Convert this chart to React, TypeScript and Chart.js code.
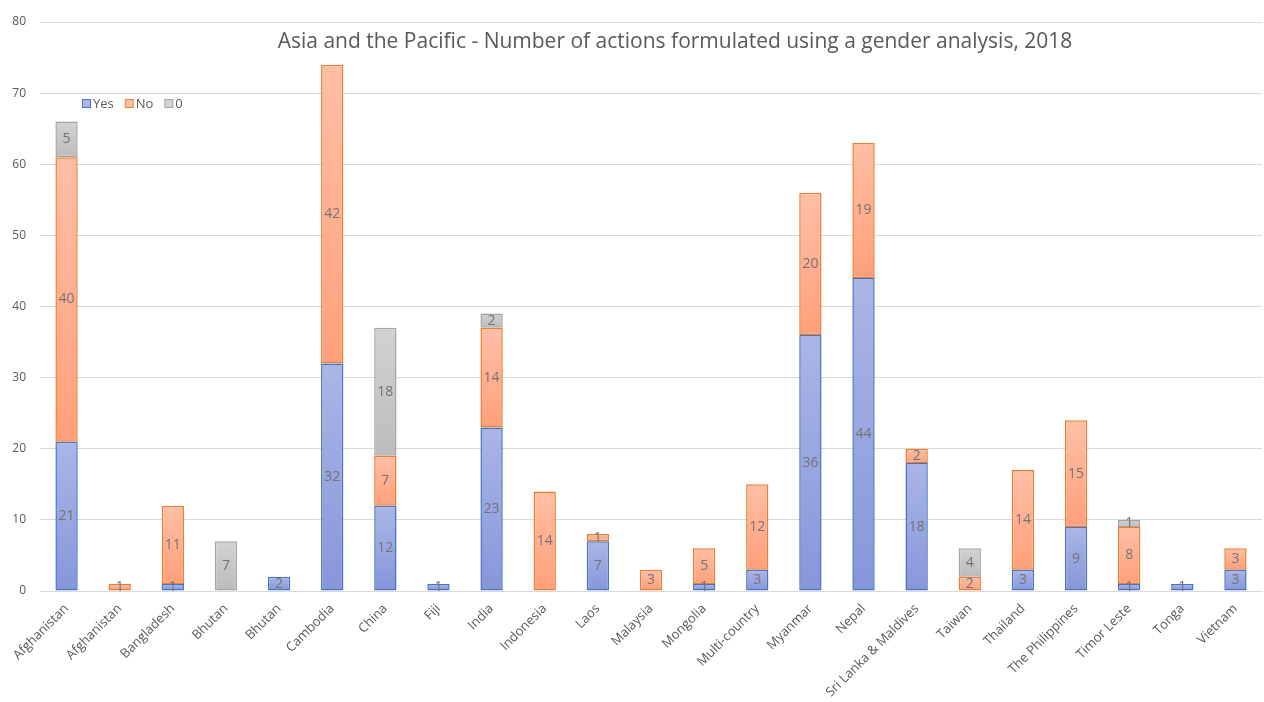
import React, { useEffect, useRef } from "react";
import { Chart, registerables } from "chart.js";

Chart.register(...registerables);

const categories = [
  "Afghanistan", "Afghanistan", "Bangladesh", "Bhutan", "Bhutan", "Cambodia", "China", "Fiji",
  "India", "Indonesia", "Laos", "Malaysia", "Mongolia", "Multi-country", "Myanmar", "Nepal",
  "Sri Lanka & Maldives", "Taiwan", "Thailand", "The Philippines", "Timor Leste", "Tonga", "Vietnam",
];
const yesValues = [21, 0, 1, 0, 2, 32, 12, 1, 23, 0, 7, 0, 1, 3, 36, 44, 18, 0, 3, 9, 1, 1, 3];
const noValues = [40, 1, 11, 0, 0, 42, 7, 0, 14, 14, 1, 3, 5, 12, 20, 19, 2, 2, 14, 15, 8, 0, 3];
const zeroValues = [5, 0, 0, 7, 0, 0, 18, 0, 2, 0, 0, 0, 0, 0, 0, 0, 0, 4, 0, 0, 1, 0, 0];
const seriesNames = ["Yes", "No", "0"];
const yTicks = [0, 10, 20, 30, 40, 50, 60, 70, 80];
const titleText = "Asia and the Pacific - Number of actions formulated using a gender analysis, 2018";

const FONT = "'Open Sans', 'Noto Sans', sans-serif";
const TEXT = "#595959";

const palette = [
  { border: "#4472c4", top: "#abb6e6", bottom: "#8696da" },
  { border: "#ed7d31", top: "#ffbfa6", bottom: "#ffa07a" },
  { border: "#a5a5a5", top: "#d2d2d2", bottom: "#bcbcbc" },
];

const gradientPlugin = {
  id: "barGradient",
  beforeDatasetsDraw(chart: any) {
    const ctx = chart.ctx;
    chart.data.datasets.forEach((ds: any, i: number) => {
      const meta = chart.getDatasetMeta(i);
      meta.data.forEach((el: any) => {
        const top = Math.min(el.y, el.base);
        const bot = Math.max(el.y, el.base);
        if (!isFinite(top) || !isFinite(bot) || bot - top < 0.5) return;
        const g = ctx.createLinearGradient(0, top, 0, bot);
        g.addColorStop(0, palette[i].top);
        g.addColorStop(1, palette[i].bottom);
        el.options = { ...el.options, backgroundColor: g };
      });
    });
  },
};

const labelPlugin = {
  id: "valueLabels",
  afterDatasetsDraw(chart: any) {
    const ctx = chart.ctx;
    ctx.save();
    ctx.font = `14px ${FONT}`;
    ctx.fillStyle = "#737373";
    ctx.textAlign = "center";
    ctx.textBaseline = "middle";
    chart.data.datasets.forEach((ds: any, i: number) => {
      const meta = chart.getDatasetMeta(i);
      meta.data.forEach((el: any, j: number) => {
        const v = ds.data[j];
        if (!v) return;
        ctx.fillText(String(v), el.x, (el.y + el.base) / 2);
      });
    });
    ctx.restore();
  },
};

const titleLegendPlugin = {
  id: "titleLegend",
  afterDraw(chart: any) {
    const ctx = chart.ctx;
    ctx.save();
    ctx.font = `21px ${FONT}`;
    ctx.fillStyle = TEXT;
    ctx.textAlign = "center";
    ctx.textBaseline = "middle";
    ctx.fillText(titleText, 675, 42);

    ctx.font = `13px ${FONT}`;
    ctx.textAlign = "left";
    let x = 82;
    const y = 104;
    seriesNames.forEach((name, i) => {
      ctx.fillStyle = palette[i].top;
      ctx.fillRect(x + 0.5, y - 4.5, 8, 8);
      ctx.strokeStyle = palette[i].border;
      ctx.lineWidth = 1;
      ctx.strokeRect(x + 0.5, y - 4.5, 8, 8);
      ctx.fillStyle = TEXT;
      ctx.fillText(name, x + 11, y);
      x += 11 + ctx.measureText(name).width + 11;
    });
    ctx.restore();
  },
};

export default function App() {
  const ref = useRef<HTMLCanvasElement>(null);
  useEffect(() => {
    document.body.style.margin = "0";
    const mk = (data: number[], i: number) => ({
      label: seriesNames[i],
      data,
      backgroundColor: () => palette[i].bottom,
      borderColor: palette[i].border,
      borderWidth: 1.5,
      borderSkipped: false,
      barPercentage: 0.42,
      categoryPercentage: 1,
    });
    const chart = new Chart(ref.current!, {
      type: "bar",
      data: {
        labels: categories,
        datasets: [mk(yesValues, 0), mk(noValues, 1), mk(zeroValues, 2)],
      },
      options: {
        animation: false,
        responsive: false,
        maintainAspectRatio: false,
        layout: { padding: { top: 22, right: 2, left: 0, bottom: 0 } },
        plugins: { legend: { display: false }, title: { display: false }, tooltip: { enabled: false } },
        scales: {
          x: {
            stacked: true,
            grid: { display: false },
            border: { color: "#d9d9d9" },
            ticks: {
              minRotation: 45,
              maxRotation: 45,
              autoSkip: false,
              color: TEXT,
              font: { family: FONT, size: 13 },
              padding: 2,
            },
            afterFit(scale: any) {
              scale.height = 111;
            },
          },
          y: {
            stacked: true,
            min: 0,
            max: 80,
            afterBuildTicks(scale: any) {
              scale.ticks = yTicks.map((v) => ({ value: v }));
            },
            grid: { color: "#d9d9d9", drawTicks: false },
            border: { display: false },
            ticks: {
              color: TEXT,
              font: { family: FONT, size: 12 },
              padding: 14,
            },
            afterFit(scale: any) {
              scale.width = 40;
            },
          },
        },
      },
      plugins: [gradientPlugin, labelPlugin, titleLegendPlugin],
    });
    return () => chart.destroy();
  }, []);
  return (
    <div style={{ width: 1264, height: 702 }}>
      <canvas ref={ref} width={1264} height={702} style={{ display: "block" }} />
    </div>
  );
}
